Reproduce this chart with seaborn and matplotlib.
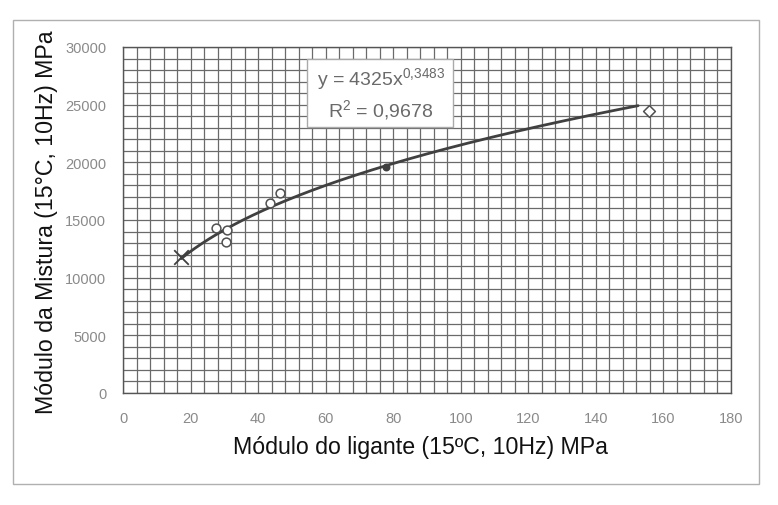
import numpy as np
import pandas as pd
import matplotlib
matplotlib.use("Agg")
import matplotlib.pyplot as plt
from matplotlib.patches import Rectangle
from matplotlib.ticker import MultipleLocator
import seaborn as sns

# ---- data ----
binder_modulus = [17.2, 27.6, 30.8, 30.5, 43.6, 46.5, 77.9, 155.6]
mix_modulus = [11800, 14300, 14100, 13100, 16500, 17300, 19600, 24450]
point_kind = ["x", "o", "o", "o", "o", "o", "f", "d"]

fit_coef = 4325
fit_exp = 0.3483
fit_r2 = "0,9678"
fit_xmin, fit_xmax = 17.2, 152.5

x_ticks = [0, 20, 40, 60, 80, 100, 120, 140, 160, 180]
y_ticks = [0, 5000, 10000, 15000, 20000, 25000, 30000]

x_label = "Módulo do ligante (15ºC, 10Hz) MPa"
y_label = "Módulo da Mistura (15°C, 10Hz) MPa"

sns.set_style("white")
plt.rcParams["font.family"] = ["Liberation Sans", "DejaVu Sans"]
plt.rcParams["mathtext.fontset"] = "custom"
plt.rcParams["mathtext.rm"] = "Liberation Sans"

W, H = 778, 506
fig = plt.figure(figsize=(W / 100, H / 100), dpi=100)

# outer chart frame
fig.patches.append(Rectangle((13 / W, 1 - 485 / H), (759 - 13) / W, (485 - 21) / H,
                             transform=fig.transFigure, fill=False,
                             edgecolor="#b0b0b0", lw=1.0))

L, R, T, B = 123, 731, 48, 394
ax = fig.add_axes([L / W, 1 - B / H, (R - L) / W, (B - T) / H])

# trend line
xf = np.linspace(fit_xmin, fit_xmax, 200)
trend = pd.DataFrame({"x": xf, "y": fit_coef * xf ** fit_exp})
sns.lineplot(data=trend, x="x", y="y", ax=ax, color="#404040", lw=2.0, zorder=3)

df = pd.DataFrame({"x": binder_modulus, "y": mix_modulus, "k": point_kind})
style_map = {"x": "x", "o": "o", "f": "o", "d": "D"}
for k, sub in df.groupby("k"):
    if k == "x":
        sns.scatterplot(data=sub, x="x", y="y", ax=ax, marker="x", s=110,
                        color="#404040", linewidth=1.3, zorder=4)
    elif k == "f":
        sns.scatterplot(data=sub, x="x", y="y", ax=ax, marker="o", s=22,
                        color="#404040", edgecolor="#404040", linewidth=1.0, zorder=4)
    else:
        sns.scatterplot(data=sub, x="x", y="y", ax=ax, marker=style_map[k],
                        s=40 if k == "o" else 36, facecolor="white",
                        edgecolor="#505050", linewidth=1.1, zorder=4)

ax.set_xlim(0, 180)
ax.set_ylim(0, 30000)
ax.set_xticks(x_ticks)
ax.set_yticks(y_ticks)
ax.xaxis.set_minor_locator(MultipleLocator(4))
ax.yaxis.set_minor_locator(MultipleLocator(1000))
ax.grid(True, which="both", color="#6a6a6a", lw=0.9)
ax.set_axisbelow(True)
for s in ax.spines.values():
    s.set_color("#555555")
    s.set_linewidth(1.0)
ax.tick_params(axis="both", which="both", length=0, labelsize=10.5,
               labelcolor="#8a8a8a")
ax.tick_params(axis="x", pad=13)
ax.tick_params(axis="y", pad=12)
ax.set_xlabel("")
ax.set_ylabel("")

fig.text(420 / W, 1 - 448 / H, x_label, ha="center", va="center",
         fontsize=16.7, color="#111111")
fig.text(47 / W, 1 - 222 / H, y_label, ha="center", va="center",
         rotation=90, fontsize=16.7, color="#111111")

# equation box
fig.patches.append(Rectangle((307 / W, 1 - 128 / H), (453 - 307) / W, (128 - 60) / H,
                             transform=fig.transFigure, facecolor="white",
                             edgecolor="#aaaaaa", lw=1.0, zorder=5))
fig.text(381 / W, 1 - 80 / H, r"y = 4325x$^{0{,}3483}$", ha="center", va="center",
         fontsize=14, color="#6a6a6a", zorder=6)
fig.text(381 / W, 1 - 111 / H, r"R$^{2}$ = " + fit_r2, ha="center", va="center",
         fontsize=14, color="#6a6a6a", zorder=6)

fig.savefig("out.png", dpi=100)
